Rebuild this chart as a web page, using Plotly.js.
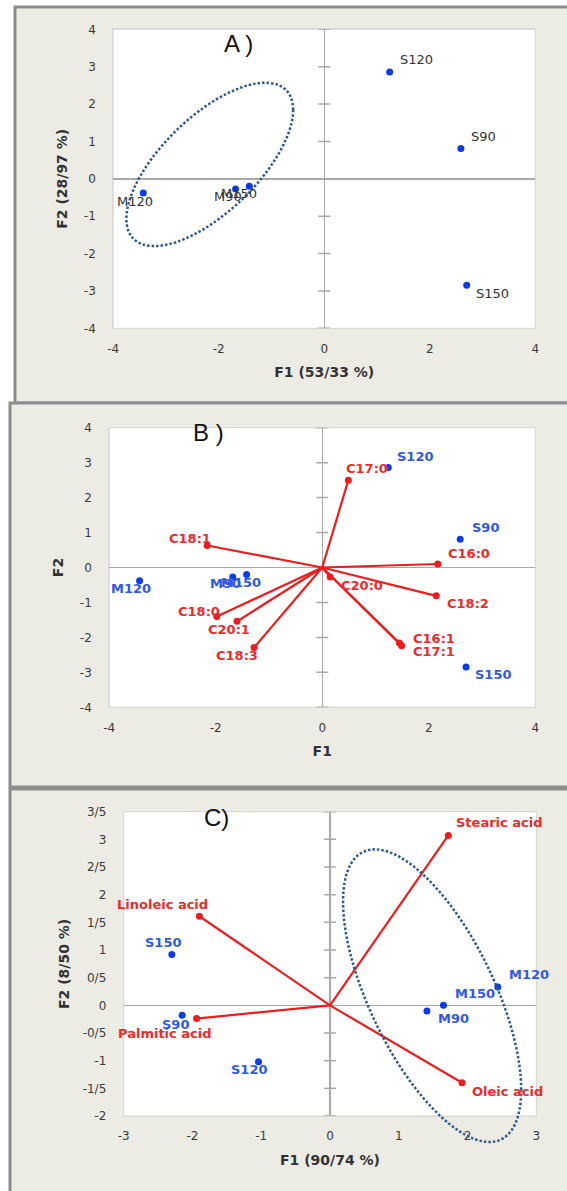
<!DOCTYPE html>
<html><head><meta charset="utf-8">
<script src="https://cdn.plot.ly/plotly-3.0.1.min.js"></script>
<style>html,body{margin:0;padding:0;background:#fff}</style>
</head><body><div id="chart" style="width:567px;height:1191px"></div>
<script>
// ---------- DATA ----------
// Panels A and B: observation scores on F1/F2
const obsNames = ['S120', 'S90', 'S150', 'M120', 'M90', 'M150'];
const obsF1 = [1.24, 2.59, 2.70, -3.43, -1.68, -1.42];
const obsF2 = [2.86, 0.81, -2.85, -0.38, -0.27, -0.20];

// Panel B: fatty acid loadings
const fattyNames = ['C17:0', 'C18:1', 'C16:0', 'C20:0', 'C18:2', 'C16:1', 'C17:1', 'C18:0', 'C20:1', 'C18:3'];
const fattyF1 = [0.49, -2.16, 2.17, 0.15, 2.14, 1.45, 1.49, -1.98, -1.60, -1.28];
const fattyF2 = [2.50, 0.63, 0.10, -0.27, -0.81, -2.16, -2.24, -1.40, -1.54, -2.29];

// Panel C: observation scores
const obsCNames = ['S150', 'S90', 'S120', 'M90', 'M150', 'M120'];
const obsCF1 = [-2.30, -2.15, -1.04, 1.41, 1.65, 2.44];
const obsCF2 = [0.92, -0.18, -1.02, -0.10, 0.00, 0.33];

// Panel C: acid loadings
const acidNames = ['Stearic acid', 'Linoleic acid', 'Palmitic acid', 'Oleic acid'];
const acidF1 = [1.72, -1.90, -1.94, 1.92];
const acidF2 = [3.07, 1.61, -0.24, -1.40];

// Tick values and labels
const ticksAB_xVals = [-4, -2, 0, 2, 4];
const ticksAB_xText = ['-4', '-2', '0', '2', '4'];
const ticksAB_yVals = [-4, -3, -2, -1, 0, 1, 2, 3, 4];
const ticksAB_yText = ['-4', '-3', '-2', '-1', '0', '1', '2', '3', '4'];
const ticksC_xVals = [-3, -2, -1, 0, 1, 2, 3];
const ticksC_xText = ['-3', '-2', '-1', '0', '1', '2', '3'];
const ticksC_yVals = [-2, -1.5, -1, -0.5, 0, 0.5, 1, 1.5, 2, 2.5, 3, 3.5];
const ticksC_yText = ['-2', '-1/5', '-1', '-0/5', '0', '0/5', '1', '1/5', '2', '2/5', '3', '3/5'];

// Axis titles & panel titles
const titlesA = {x: 'F1 (53/33 %)', y: 'F2 (28/97 %)', panel: 'A )'};
const titlesB = {x: 'F1', y: 'F2', panel: 'B )'};
const titlesC = {x: 'F1 (90/74 %)', y: 'F2 (8/50 %)', panel: 'C)'};

// ---------- STYLE ----------
const W = 567, H = 1191;
const blue = '#0B3BF0', blueText = '#3158E6', red = '#EE1C1C', redText = '#EE2A2A';

// label offsets in pixels [right, up] from the marked point
const offA = [[27, 12], [23, 12], [26, -8], [-8.5, -8], [-8, -7.5], [-10, -7.5]];
const offB = [[27, 11], [25, 12], [27.5, -7.5], [-9, -7.5], [-7, -7], [-6, -8]];
const offFatty = [[18.5, 11.5], [-17.5, 6.5], [31, 10.5], [32, -8.5], [32, -7.5], [35, 4.5], [32, -5.5], [-18, 4.5], [-8.5, -8.5], [-17, -7.5]];
const offObsC = [[-8.5, 11.5], [-7, -9], [-8.5, -7.5], [27, -8], [31.5, 11.5], [31.5, 12.5]];
const offAcid = [[51, 12.5], [-36.5, 12], [-31.5, -15], [45, -8.5]];

// plot-area boxes in pixels [left, right, top, bottom]
const boxA = [113.2, 535.3, 29.3, 328.3];
const boxB = [109.2, 535.3, 427.7, 707.3];
const boxC = [123.7, 536.3, 811.7, 1116.0];
const xd = b => [b[0] / W, b[1] / W];
const yd = b => [1 - b[3] / H, 1 - b[2] / H];

const tickFont = {family: 'DejaVu Sans', size: 12, color: '#3A3A3A'};
const titleFont = {family: 'DejaVu Sans', size: 14, color: '#333333', weight: 'bold'};

function axis(domain, range, extra) {
  return Object.assign({
    domain: domain, range: range, showgrid: false,
    zeroline: true, zerolinecolor: '#A8A8A8', zerolinewidth: 1.5,
    showline: true, mirror: true, linecolor: '#D8D8D8', linewidth: 1,
    ticks: '', tickfont: tickFont, fixedrange: true
  }, extra);
}

const layout = {
  width: W, height: H, margin: {l: 0, r: 0, t: 0, b: 0},
  paper_bgcolor: '#ffffff', plot_bgcolor: 'rgba(0,0,0,0)',
  showlegend: false, hovermode: false,
  xaxis: axis(xd(boxA), [-4, 4], {anchor: 'y', tickvals: ticksAB_xVals, ticktext: ticksAB_xText, ticklabelstandoff: 9,
    title: {text: titlesA.x, font: titleFont, standoff: 12}}),
  yaxis: axis(yd(boxA), [-4, 4], {anchor: 'x', tickvals: ticksAB_yVals, ticktext: ticksAB_yText, ticklabelstandoff: 14,
    title: {text: titlesA.y, font: titleFont, standoff: 12}}),
  xaxis2: axis(xd(boxB), [-4, 4], {anchor: 'y2', tickvals: ticksAB_xVals, ticktext: ticksAB_xText, ticklabelstandoff: 9,
    title: {text: titlesB.x, font: titleFont, standoff: 12}}),
  yaxis2: axis(yd(boxB), [-4, 4], {anchor: 'x2', tickvals: ticksAB_yVals, ticktext: ticksAB_yText, ticklabelstandoff: 14,
    title: {text: titlesB.y, font: titleFont, standoff: 12}}),
  xaxis3: axis(xd(boxC), [-3, 3], {anchor: 'y3', tickvals: ticksC_xVals, ticktext: ticksC_xText, ticklabelstandoff: 9,
    title: {text: titlesC.x, font: titleFont, standoff: 12}}),
  yaxis3: axis(yd(boxC), [-2, 3.5], {anchor: 'x3', tickvals: ticksC_yVals, ticktext: ticksC_yText, ticklabelstandoff: 14,
    title: {text: titlesC.y, font: titleFont, standoff: 9}}),
  shapes: [], annotations: []
};

// panel frames (beige) and white plot areas
const frames = [[15, 403, 7], [10, 787, 403], [10, 1210, 789]];
frames.forEach(f => layout.shapes.push({type: 'rect', xref: 'paper', yref: 'paper', layer: 'below',
  x0: f[0] / W, x1: 1.05, y0: 1 - f[1] / H, y1: 1 - f[2] / H,
  fillcolor: '#EDECE4', line: {color: '#8C8C8C', width: 3}}));
[boxA, boxB, boxC].forEach(b => layout.shapes.push({type: 'rect', xref: 'paper', yref: 'paper', layer: 'below',
  x0: b[0] / W, x1: b[1] / W, y0: 1 - b[3] / H, y1: 1 - b[2] / H,
  fillcolor: '#FFFFFF', line: {color: '#D8D8D8', width: 1}}));

// tick marks crossing the vertical zero line
function zeroTicks(xref, yref, vals) {
  vals.filter(v => v !== 0).forEach(v => layout.shapes.push({type: 'line', xref: xref, yref: yref,
    xsizemode: 'pixel', xanchor: 0, x0: -6, x1: 6, y0: v, y1: v, line: {color: '#A8A8A8', width: 1.5}}));
}
zeroTicks('x', 'y', ticksAB_yVals);
zeroTicks('x2', 'y2', ticksAB_yVals);
zeroTicks('x3', 'y3', ticksC_yVals);

// dotted ellipses (paper coordinates so they may extend past the plot area)
function ellipsePath(ax, ay, c, u, v) {
  const xa = layout[ax], ya = layout[ay];
  const px = x => xa.domain[0] + (x - xa.range[0]) / (xa.range[1] - xa.range[0]) * (xa.domain[1] - xa.domain[0]);
  const py = y => ya.domain[0] + (y - ya.range[0]) / (ya.range[1] - ya.range[0]) * (ya.domain[1] - ya.domain[0]);
  const k = 0.5523;
  const P = (a, b) => [c[0] + a * u[0] + b * v[0], c[1] + a * u[1] + b * v[1]];
  const segs = [
    [P(1, k), P(k, 1), P(0, 1)],
    [P(-k, 1), P(-1, k), P(-1, 0)],
    [P(-1, -k), P(-k, -1), P(0, -1)],
    [P(k, -1), P(1, -k), P(1, 0)]
  ];
  const f = p => px(p[0]).toFixed(5) + ',' + py(p[1]).toFixed(5);
  let d = 'M' + f(P(1, 0));
  segs.forEach(s => { d += ' C' + f(s[0]) + ' ' + f(s[1]) + ' ' + f(s[2]); });
  return d + ' Z';
}
const ellLine = {color: '#2E5A8E', width: 2.5, dash: '2.5px,2px'};
layout.shapes.push({type: 'path', xref: 'paper', yref: 'paper', layer: 'above',
  path: ellipsePath('xaxis', 'yaxis', [-2.17, 0.385], [1.58, 1.456], [0, 1.629]), line: ellLine});
layout.shapes.push({type: 'path', xref: 'paper', yref: 'paper', layer: 'above',
  path: ellipsePath('xaxis3', 'yaxis3', [1.485, 0.175], [1.295, -1.699], [0, 2.027]), line: ellLine});

// panel titles
[[titlesA.panel, 238.7, 43.3], [titlesB.panel, 208, 432], [titlesC.panel, 216, 817]].forEach(t =>
  layout.annotations.push({text: t[0], xref: 'paper', yref: 'paper', x: t[1] / W, y: 1 - t[2] / H,
    xanchor: 'center', yanchor: 'middle', showarrow: false,
    font: {family: 'Liberation Sans', size: 24, color: '#111111'}}));

// point labels
function labels(xs, ys, names, offs, xa, ya, font) {
  names.forEach((n, i) => layout.annotations.push({xref: xa, yref: ya, x: xs[i], y: ys[i], text: n,
    showarrow: false, xanchor: 'center', yanchor: 'middle', xshift: offs[i][0], yshift: offs[i][1], font: font}));
}
const labReg = c => ({family: 'DejaVu Sans', size: 13, color: c});
const labBold = c => ({family: 'DejaVu Sans', size: 13, color: c, weight: 'bold'});
labels(obsF1, obsF2, obsNames, offA, 'x', 'y', labReg('#333333'));
labels(fattyF1, fattyF2, fattyNames, offFatty, 'x2', 'y2', labBold(redText));
labels(obsF1, obsF2, obsNames, offB, 'x2', 'y2', labBold(blueText));
labels(acidF1, acidF2, acidNames, offAcid, 'x3', 'y3', labBold(redText));
labels(obsCF1, obsCF2, obsCNames, offObsC, 'x3', 'y3', labBold(blueText));

// ---------- TRACES ----------
function vectorLines(xs, ys, xa, ya) {
  const lx = [], ly = [];
  xs.forEach((x, i) => { lx.push(0, x, null); ly.push(0, ys[i], null); });
  return {type: 'scatter', mode: 'lines', x: lx, y: ly, xaxis: xa, yaxis: ya,
    line: {color: red, width: 2.2}, hoverinfo: 'skip'};
}
const pts = (xs, ys, xa, ya, color) => ({type: 'scatter', mode: 'markers', x: xs, y: ys,
  xaxis: xa, yaxis: ya, cliponaxis: false, marker: {color: color, size: 7}});

const data = [
  pts(obsF1, obsF2, 'x', 'y', blue),
  vectorLines(fattyF1, fattyF2, 'x2', 'y2'),
  pts(fattyF1, fattyF2, 'x2', 'y2', red),
  pts(obsF1, obsF2, 'x2', 'y2', blue),
  vectorLines(acidF1, acidF2, 'x3', 'y3'),
  pts(acidF1, acidF2, 'x3', 'y3', red),
  pts(obsCF1, obsCF2, 'x3', 'y3', blue)
];

Plotly.newPlot('chart', data, layout, {staticPlot: true, displayModeBar: false});
</script></body></html>
